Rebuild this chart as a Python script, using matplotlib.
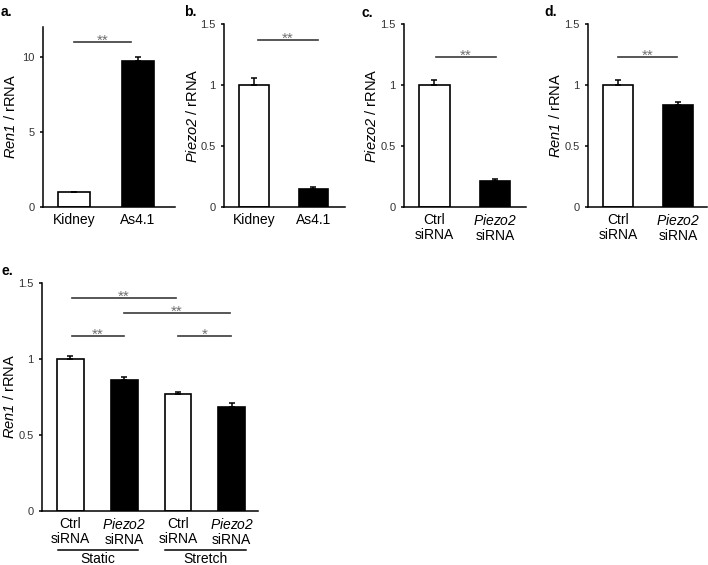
import numpy as np
import matplotlib
matplotlib.use("Agg")
import matplotlib.pyplot as plt
import matplotlib.transforms as mtransforms

plt.rcParams['font.family'] = ['Liberation Sans', 'DejaVu Sans']
# math text is only used for the italic gene names
plt.rcParams['mathtext.fontset'] = 'custom'
plt.rcParams['mathtext.it'] = 'Liberation Sans:italic'
plt.rcParams['mathtext.rm'] = 'Liberation Sans:italic'
plt.rcParams['mathtext.sf'] = 'Liberation Sans:italic'

W, H = 708, 565

# panel a
a_labels = ['Kidney', 'As4.1']
a_values = [1.0, 9.75]
a_errors = [0.03, 0.25]
# panel b
b_labels = ['Kidney', 'As4.1']
b_values = [1.0, 0.15]
b_errors = [0.06, 0.01]
# panel c
c_labels = ['Ctrl\nsiRNA', '$Piezo2$\nsiRNA']
c_values = [1.0, 0.21]
c_errors = [0.04, 0.02]
# panel d
d_labels = ['Ctrl\nsiRNA', '$Piezo2$\nsiRNA']
d_values = [1.0, 0.84]
d_errors = [0.04, 0.02]
# panel e
e_labels = ['Ctrl\nsiRNA', '$Piezo2$\nsiRNA', 'Ctrl\nsiRNA', '$Piezo2$\nsiRNA']
e_values = [1.0, 0.86, 0.77, 0.685]
e_errors = [0.02, 0.02, 0.015, 0.025]
e_groups = ['Static', 'Stretch']

# significance brackets: (from bar, to bar, y, stars)
a_sig = [(0, 0.9, 11.0, '**')]
b_sig = [(0.07, 1.07, 1.37, '**')]
c_sig = [(0.02, 1.02, 1.23, '**')]
d_sig = [(0.0, 0.98, 1.23, '**')]
e_sig = [(0.03, 1.96, 1.40, '**'), (1.0, 2.97, 1.30, '**'),
         (0.03, 1.0, 1.15, '**'), (2.0, 2.99, 1.15, '*')]


def px_axes(fig, left, top, right, bottom):
    '''add axes from pixel box (origin top-left)'''
    return fig.add_axes([left / W, 1 - bottom / H, (right - left) / W,
                         (bottom - top) / H])


def bar_panel(ax, labels, values, errors, ylim, yticks, yticklabels,
              ylabel, xlim, sig, width_px):
    x = np.arange(len(values))
    colors = ['white' if i % 2 == 0 else 'black' for i in x]
    ax.bar(x, values, width=0.5, color=colors, edgecolor='black',
           linewidth=1.2, zorder=2)
    ax.errorbar(x, values, yerr=[np.zeros(len(errors)), errors], fmt='none',
                ecolor='black', elinewidth=1.1, capsize=2.2, capthick=1.1,
                zorder=3)
    ax.set_xlim(*xlim)
    ax.set_ylim(*ylim)
    ax.set_yticks(yticks)
    ax.set_yticklabels(yticklabels)
    ax.set_xticks(x)
    ax.set_xticklabels(labels, fontsize=10)
    for t in ax.get_xticklabels():
        t.set_linespacing(1.05)
    ax.tick_params(axis='x', length=0, pad=4.5)
    ax.tick_params(axis='y', length=2.5, width=1.1, labelsize=8,
                   labelcolor='#333333', pad=3.5)
    ax.spines['top'].set_visible(False)
    ax.spines['right'].set_visible(False)
    ax.spines['left'].set_linewidth(1.1)
    ax.spines['bottom'].set_linewidth(1.1)
    ax.set_ylabel(ylabel, fontsize=10.5, va='center')
    ax.yaxis.set_label_coords(-32 / width_px, 0.5)
    for x0, x1, y, s in sig:
        ax.plot([x0, x1], [y, y], color='#3a3a3a', lw=1.2, clip_on=False)
        ax.annotate(s, xy=((x0 + x1) / 2, y), xytext=(0, -2),
                    textcoords='offset points', ha='center', va='baseline',
                    fontsize=11, color='#707070')


fig = plt.figure(figsize=(W / 100, H / 100), dpi=100)

ax = px_axes(fig, 43, 27, 175, 207)
bar_panel(ax, a_labels, a_values, a_errors, (0, 12), [0, 5, 10],
          ['0', '5', '10'], '$Ren1$ / rRNA', (-0.48, 1.58), a_sig, 132)

ax = px_axes(fig, 224, 24, 345, 207)
bar_panel(ax, b_labels, b_values, b_errors, (0, 1.5), [0, 0.5, 1, 1.5],
          ['0', '0.5', '1', '1.5'], '$Piezo2$ / rRNA',
          (-0.5, 1.53), b_sig, 121)

ax = px_axes(fig, 404, 24, 526, 207)
bar_panel(ax, c_labels, c_values, c_errors, (0, 1.5), [0, 0.5, 1, 1.5],
          ['0', '0.5', '1', '1.5'], '$Piezo2$ / rRNA',
          (-0.5, 1.51), c_sig, 122)

ax = px_axes(fig, 588, 24, 707, 207)
bar_panel(ax, d_labels, d_values, d_errors, (0, 1.5), [0, 0.5, 1, 1.5],
          ['0', '0.5', '1', '1.5'], '$Ren1$ / rRNA',
          (-0.5, 1.48), d_sig, 119)

ax = px_axes(fig, 42, 283, 258, 511)
bar_panel(ax, e_labels, e_values, e_errors, (0, 1.5), [0, 0.5, 1, 1.5],
          ['0', '0.5', '1', '1.5'], '$Ren1$ / rRNA',
          (-0.53, 3.49), e_sig, 216)
trans = mtransforms.blended_transform_factory(ax.transData, ax.transAxes)
for k, name in enumerate(e_groups):
    x0 = 2 * k - 0.24
    x1 = 2 * k + 1.26
    ax.plot([x0, x1], [-0.171, -0.171], color='black', lw=1.1,
            transform=trans, clip_on=False)
    ax.text((x0 + x1) / 2, -0.18, name, ha='center', va='top', fontsize=10,
            transform=trans)

# panel letters
for lbl, (px, py) in zip(['a.', 'b.', 'c.', 'd.', 'e.'],
                         [(1, 12), (184, 12), (362, 13), (544, 12), (1, 271)]):
    fig.text(px / W, 1 - py / H, lbl, fontsize=10, fontweight='bold',
             ha='left', va='center')

fig.savefig('out.png', dpi=100)
